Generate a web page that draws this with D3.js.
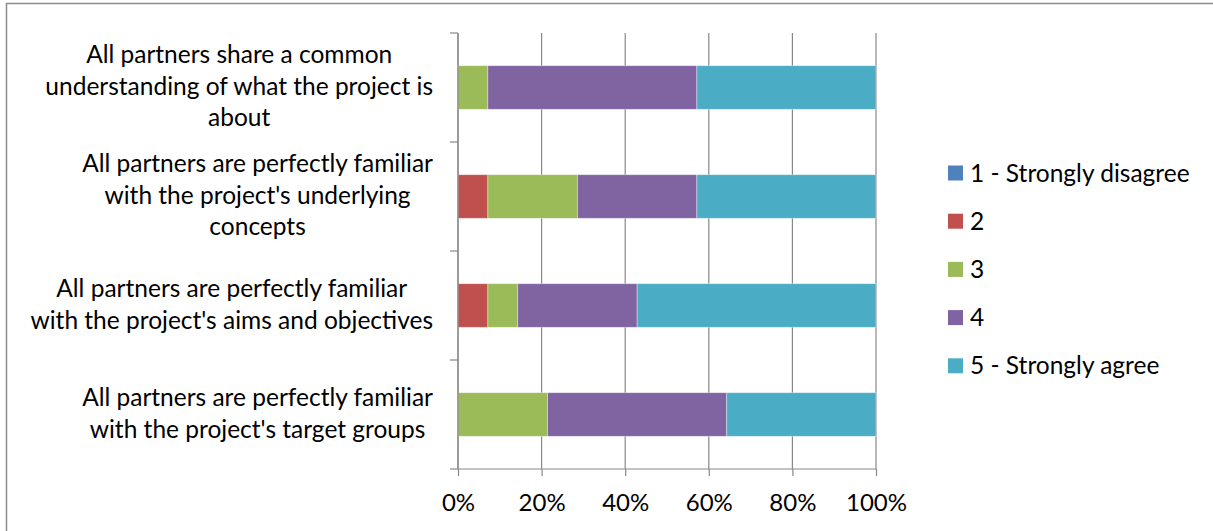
<!DOCTYPE html>
<html>
<head>
<meta charset="utf-8">
<script src="https://cdn.jsdelivr.net/npm/d3@7"></script>
<style>
  html, body { margin: 0; padding: 0; background: #fff; }
  svg { display: block; }
  text { font-family: Lato, "Open Sans", sans-serif; fill: #000; }
</style>
</head>
<body>
<svg id="chart" width="1213" height="531"></svg>
<script>
// Survey statements, top to bottom
const categories = [
  ["All partners share a common", "understanding of what the project is", "about"],
  ["All partners are perfectly familiar", "with the project's underlying", "concepts"],
  ["All partners are perfectly familiar", "with the project's aims and objectives"],
  ["All partners are perfectly familiar", "with the project's target groups"]
];
const seriesNames = ["1 - Strongly disagree", "2", "3", "4", "5 - Strongly agree"];
// Number of responses per rating, one array per rating, aligned with categories
const strongly_disagree = [0, 0, 0, 0];
const rating2 = [0, 1, 1, 0];
const rating3 = [1, 3, 1, 3];
const rating4 = [7, 4, 4, 6];
const strongly_agree = [6, 6, 8, 5];
const xTicks = [0, 0.2, 0.4, 0.6, 0.8, 1.0];
const colors = ["#4F81BD", "#C0504D", "#9BBB59", "#8064A2", "#4BACC6"];

const seriesValues = [strongly_disagree, rating2, rating3, rating4, strongly_agree];
const rows = categories.map((c, i) => {
  const row = { id: i };
  const total = d3.sum(seriesValues, s => s[i]);
  seriesNames.forEach((n, k) => { row[n] = seriesValues[k][i] / total; });
  return row;
});

const svg = d3.select("#chart");
const fontSize = 24.5;

// chart frame
svg.append("rect")
  .attr("x", 6.5).attr("y", 3.5)
  .attr("width", 1215).attr("height", 540)
  .attr("fill", "none").attr("stroke", "#8a8a8a").attr("stroke-width", 1.5);

const plot = { left: 458, right: 876, top: 33, bottom: 469 };

const x = d3.scaleLinear().domain([0, 1]).range([plot.left, plot.right]);
const y = d3.scaleBand().domain(rows.map(r => r.id))
  .range([plot.top, plot.bottom]).paddingInner(0.6).paddingOuter(0.3);
const yBand = d3.scaleBand().domain(rows.map(r => r.id)).range([plot.top, plot.bottom]);

// vertical gridlines
svg.append("g").selectAll("line").data(xTicks).join("line")
  .attr("x1", d => x(d)).attr("x2", d => x(d))
  .attr("y1", plot.top).attr("y2", plot.bottom)
  .attr("stroke", "#888").attr("stroke-width", 1.2);

// stacked bars
const stack = d3.stack().keys(seriesNames);
const layers = stack(rows);
svg.append("g").selectAll("g").data(layers).join("g")
  .attr("fill", (d, i) => colors[i])
  .selectAll("rect").data(d => d).join("rect")
  .attr("x", d => x(d[0]))
  .attr("width", d => x(d[1]) - x(d[0]))
  .attr("y", d => y(d.data.id))
  .attr("height", y.bandwidth())
  .attr("stroke", "rgba(255,255,255,0.45)")
  .attr("stroke-width", d => (d[1] - d[0]) > 0 ? 0.8 : 0);

// category axis (left): line plus tick marks at the band edges
const yAxisG = svg.append("g").attr("transform", `translate(${plot.left},0)`);
const catEdges = d3.range(rows.length + 1).map(i => plot.top + i * yBand.step());
yAxisG.selectAll("line.edge").data(catEdges).join("line").attr("class", "edge")
  .attr("x1", -8).attr("x2", 0).attr("y1", d => d).attr("y2", d => d)
  .attr("stroke", "#888").attr("stroke-width", 1.2);
yAxisG.append("line").attr("x1", 0).attr("x2", 0)
  .attr("y1", plot.top).attr("y2", plot.bottom)
  .attr("stroke", "#888").attr("stroke-width", 1.2);

// value axis (bottom)
const xAxis = d3.axisBottom(x).tickValues(xTicks).tickSize(7).tickPadding(18)
  .tickFormat(d3.format(".0%"));
const xAxisG = svg.append("g").attr("transform", `translate(0,${plot.bottom})`).call(xAxis);
xAxisG.select(".domain").attr("d", `M${plot.left},0H${plot.right}`)
  .attr("stroke", "#888").attr("stroke-width", 1.2);
xAxisG.selectAll(".tick line").attr("stroke", "#888").attr("stroke-width", 1.2);
xAxisG.selectAll(".tick text")
  .style("font-family", "Lato, 'Open Sans', sans-serif")
  .style("font-size", "24px").attr("fill", "#000");

// wrapped category labels, right edge of each block at a fixed x
const labelRight = 433;
const lineH = 31.8;
const labels = svg.append("g").style("font-size", fontSize + "px");
categories.forEach((lines, i) => {
  const g = labels.append("g");
  const texts = g.selectAll("text").data(lines).join("text").text(d => d);
  const maxW = d3.max(texts.nodes(), n => n.getComputedTextLength());
  const cx = labelRight - maxW / 2;
  const cy = yBand(i) + yBand.bandwidth() / 2;
  const n = lines.length;
  texts.attr("x", cx).attr("text-anchor", "middle")
    .attr("y", (d, k) => cy + (k - (n - 1) / 2) * lineH + (n === 3 ? 7 : 7.5));
});

// legend
const legend = svg.append("g").attr("transform", "translate(948,173)");
const items = legend.selectAll("g").data(seriesNames).join("g")
  .attr("transform", (d, i) => `translate(0,${i * 48.2})`);
items.append("rect").attr("x", 0).attr("y", -7.5).attr("width", 15).attr("height", 15)
  .attr("fill", (d, i) => colors[i]);
items.append("text").attr("x", 22).attr("y", 8.5).style("font-size", fontSize + "px").text(d => d);
</script>
</body>
</html>
